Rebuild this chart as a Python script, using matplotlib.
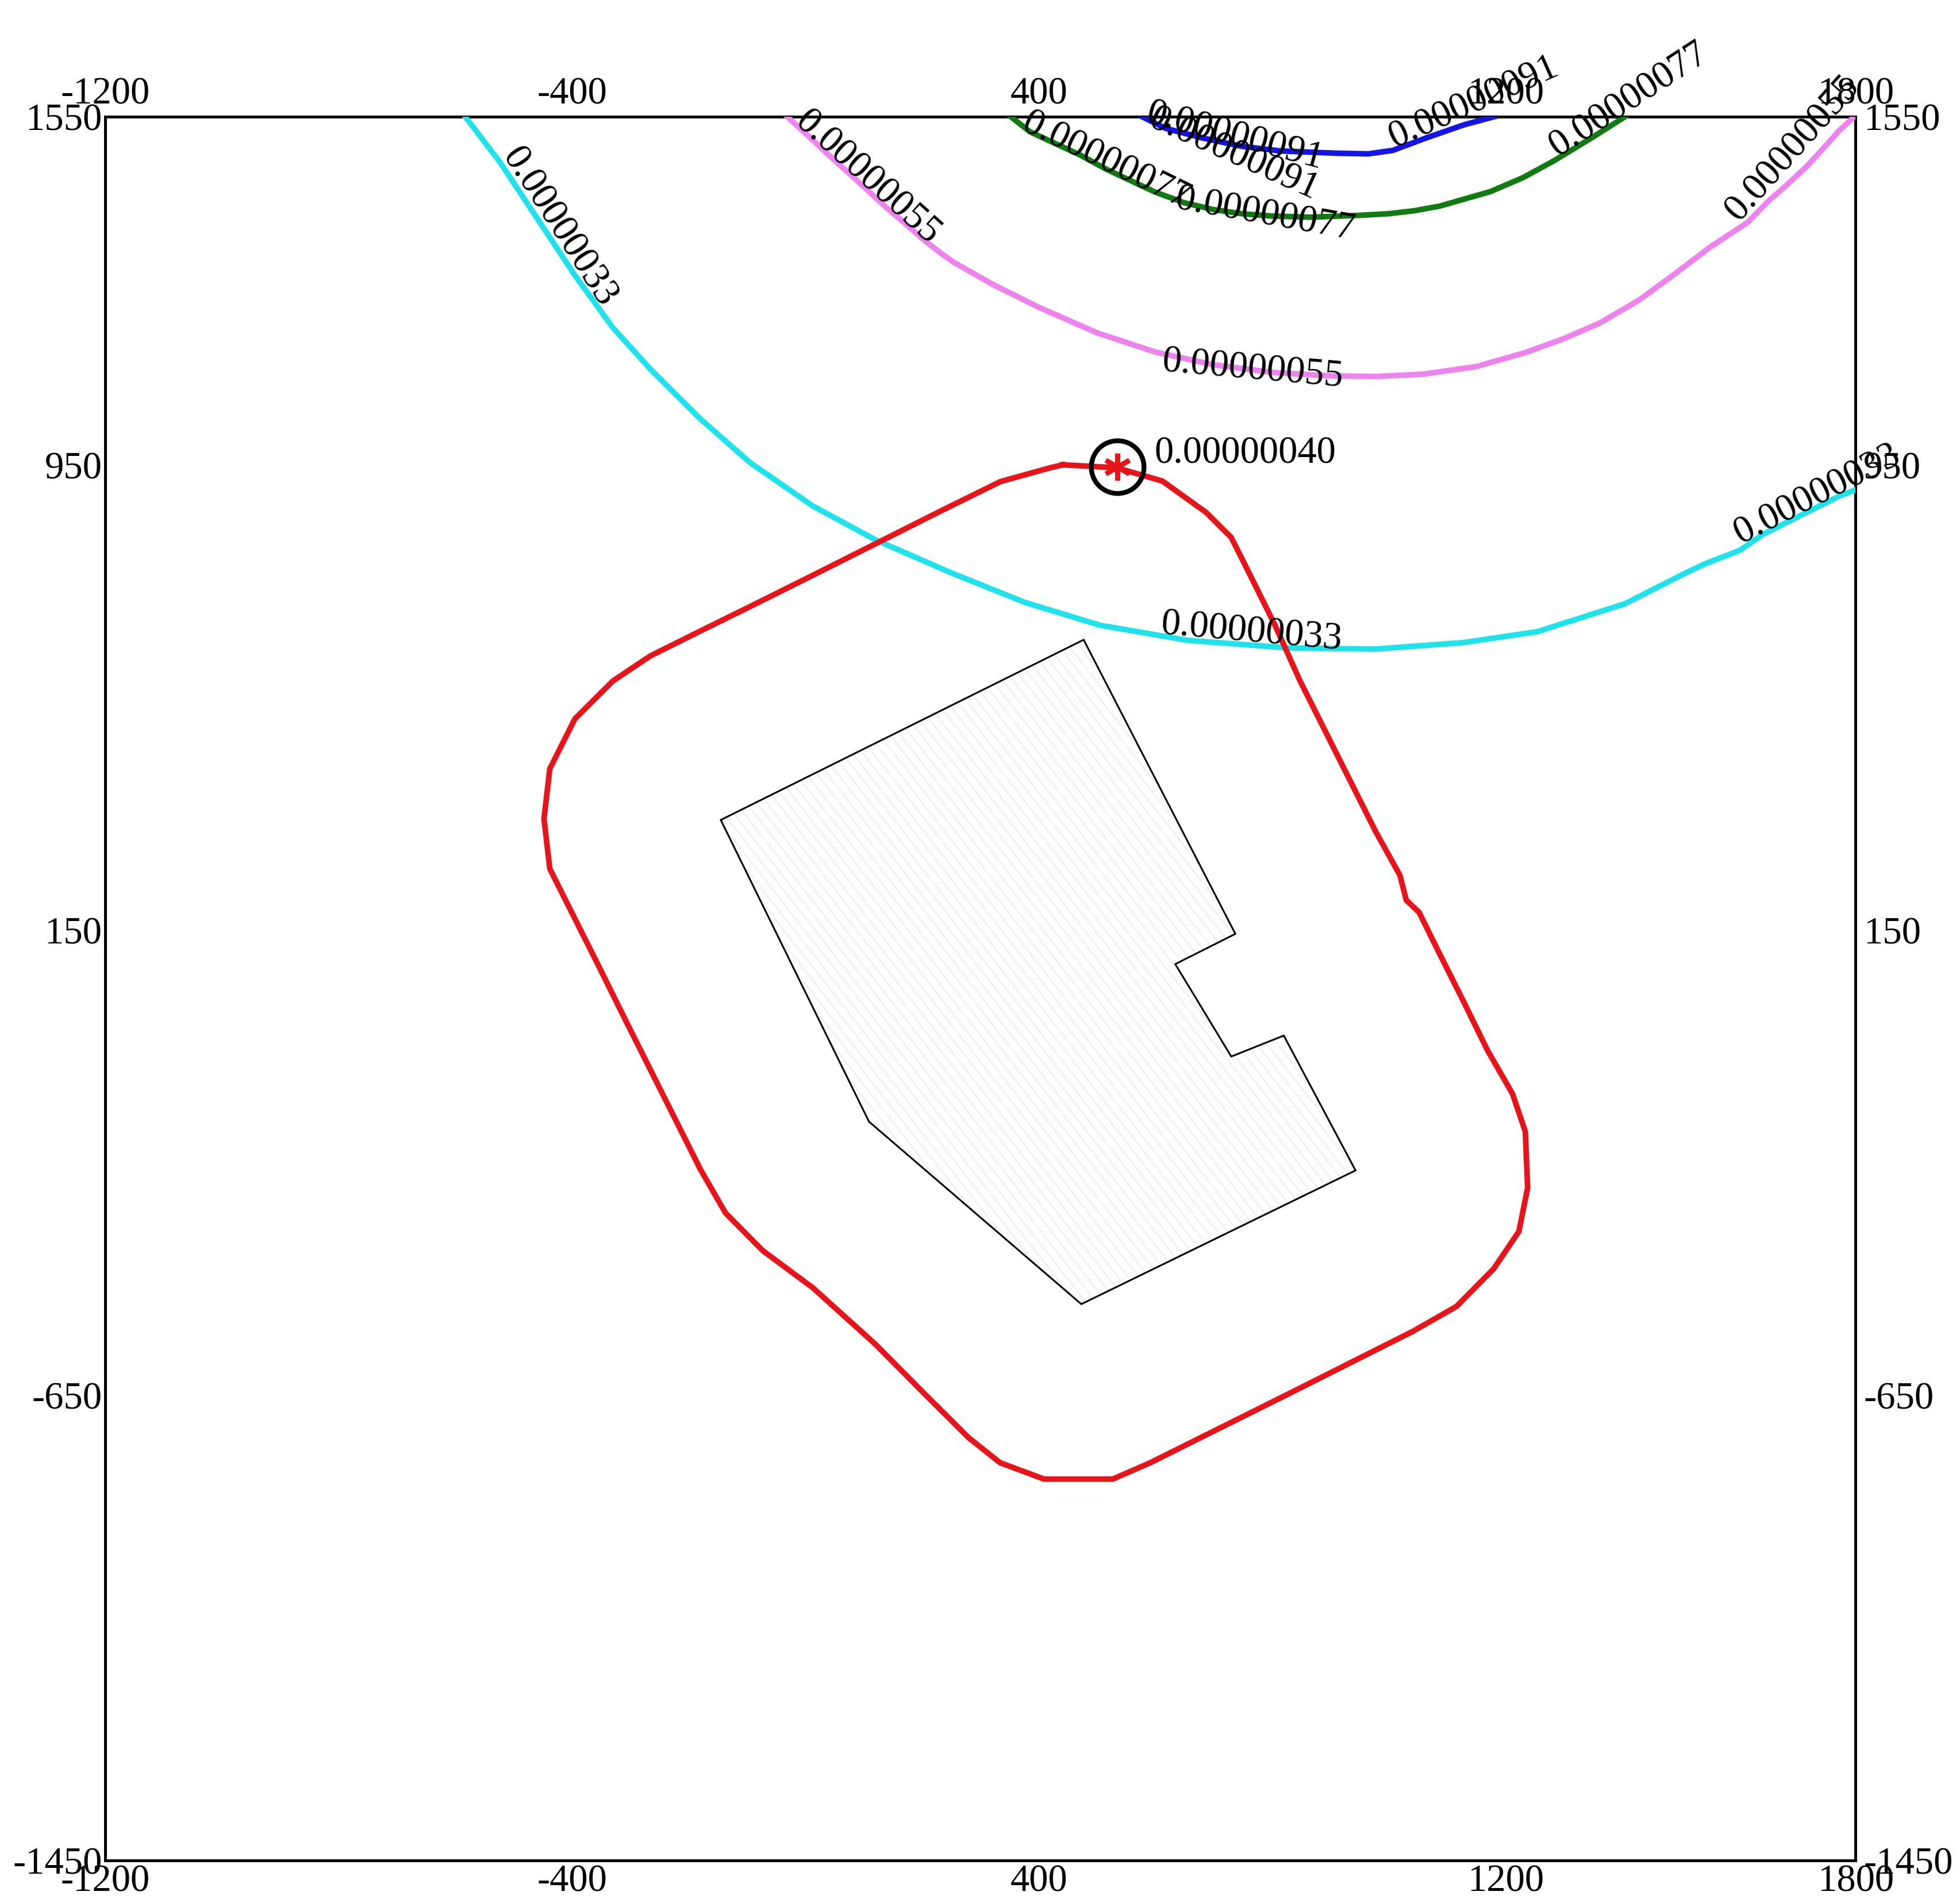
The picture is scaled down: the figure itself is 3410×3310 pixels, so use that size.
import numpy as np
import matplotlib.pyplot as plt
from matplotlib.patches import Polygon
from matplotlib.collections import LineCollection

plt.rcParams['font.family'] = ['Liberation Serif', 'DejaVu Serif']

# axis ticks
x_ticks = [-1200, -400, 400, 1200, 1800]
y_ticks = [1550, 950, 150, -650, -1450]

# isolines (x, y in metres)
c33_x = [-583, -523, -459, -395, -330, -266, -180, -95, 13, 120, 248, 377, 505, 655, 827, 977, 1127, 1255, 1405, 1509, 1543, 1602, 1641, 1706, 1772, 1800]
c33_y = [1550, 1471, 1374, 1277, 1187, 1116, 1030, 955, 880, 822, 766, 714, 675, 649, 636, 634, 645, 664, 712, 765, 781, 804, 831, 864, 897, 908]

c55_x = [-31, 6, 38, 71, 104, 137, 169, 203, 235, 255, 320, 400, 500, 600, 700, 800, 900, 980, 1060, 1150, 1234, 1300, 1362, 1430, 1491, 1550, 1615, 1651, 1684, 1716, 1750, 1772, 1798]
c55_y = [1550, 1516, 1486, 1456, 1426, 1395, 1368, 1338, 1313, 1299, 1262, 1222, 1178, 1145, 1123, 1110, 1104, 1103, 1107, 1120, 1144, 1168, 1195, 1235, 1280, 1325, 1368, 1405, 1434, 1464, 1501, 1526, 1550]

c77_x = [352, 385, 430, 471, 515, 551, 600, 649, 700, 748, 800, 866, 945, 1000, 1043, 1087, 1174, 1230, 1283, 1350, 1405]
c77_y = [1550, 1524, 1503, 1484, 1460, 1443, 1420, 1402, 1390, 1383, 1379, 1377, 1380, 1383, 1388, 1396, 1421, 1445, 1474, 1515, 1550]

c91_x = [577, 617, 682, 748, 814, 912, 965, 1007, 1063, 1129, 1181]
c91_y = [1550, 1530, 1513, 1499, 1491, 1487, 1486, 1492, 1513, 1536, 1550]

c40_x = [441, 533, 612, 687, 730, 762, 805, 848, 891, 934, 977, 1019, 1030, 1052, 1084, 1127, 1169, 1212, 1234, 1238,
         1223, 1180, 1116, 1041, 934, 827, 719, 591, 527, 409, 334, 280, 205, 120, 13, -73, -137, -180, -223, -266,
         -309, -352, -395, -438, -448, -438, -395, -330, -266, -180, -95, 13, 120, 227, 334, 420, 441]
c40_y = [951, 946, 923, 869, 826, 762, 675, 579, 493, 407, 321, 245, 202, 181, 116, 30, -56, -131, -196, -293,
         -368, -432, -497, -540, -594, -648, -702, -766, -794, -794, -766, -723, -648, -562, -465, -401, -336, -261, -175, -89,
         -3, 84, 170, 256, 342, 428, 514, 579, 622, 665, 707, 761, 815, 869, 922, 946, 951]

# site outline
site_x = [477, -145, 109, 473, 943, 820, 730, 634, 737]
site_y = [650, 340, -179, -493, -263, -31, -67, 92, 144]

# receptor point
point_x, point_y = 535, 948

isolines = [
    (c33_x, c33_y, '#1ee3ec'),
    (c55_x, c55_y, '#ee82ee'),
    (c77_x, c77_y, '#117a11'),
    (c91_x, c91_y, '#1414e6'),
    (c40_x, c40_y, '#e8141a'),
]

# isoline labels: text, x, y, angle
labels = [
    ('0.00000033', -520, 1482, -57),
    ('0.00000033', 608, 660, -5),
    ('0.00000033', 1603, 814, 27),
    ('0.00000055', -20, 1537, -42),
    ('0.00000055', 610, 1112, -5),
    ('0.00000055', 1600, 1368, 48),
    ('0.00000077', 368, 1528, -26),
    ('0.00000077', 632, 1392, -10),
    ('0.00000077', 1290, 1480, 33),
    ('0.00000091', 582, 1540, -15),
    ('0.00000091', 586, 1534, -24),
    ('0.00000091', 1010, 1496, 24),
]

fig = plt.figure(figsize=(34.1, 33.1), dpi=100)
ax = fig.add_axes([0.0537, 0.0224, 0.8930, 0.9163])
ax.set_xlim(-1200, 1800)
ax.set_ylim(-1450, 1550)

for xs, ys, col in isolines:
    ax.plot(xs, ys, color=col, lw=7, solid_joinstyle='round', zorder=3)

site = Polygon(np.column_stack([site_x, site_y]), closed=True, fill=False,
               edgecolor='black', lw=2.2, zorder=4)
ax.add_patch(site)

# light hatching inside the site
ang = np.deg2rad(-52)
d = np.array([np.cos(ang), np.sin(ang)])
nrm = np.array([-d[1], d[0]])
c0 = np.array([np.mean(site_x), np.mean(site_y)])
segs = [[c0 + o * nrm - 1500 * d, c0 + o * nrm + 1500 * d] for o in np.arange(-900, 900, 14)]
hatch = LineCollection(segs, colors='#e8e8e8', linewidths=1.1, zorder=2)
hatch.set_clip_path(site)
ax.add_collection(hatch)

ax.plot(point_x, point_y, marker=(6, 2, 0), color='#e8141a', ms=34, mew=6, zorder=6)
ax.plot(point_x, point_y, marker='o', mfc='none', mec='black', ms=66, mew=6, zorder=6)
ax.text(598, 970, '0.00000040', fontsize=48, ha='left', va='center', zorder=7)

for txt, lx, ly, rot in labels:
    ax.text(lx, ly, txt, fontsize=48, rotation=rot, rotation_mode='anchor',
            ha='left', va='baseline', zorder=7)

for s in ax.spines.values():
    s.set_linewidth(3.6)

ax.set_xticks(x_ticks, [str(v) for v in x_ticks])
ax.set_yticks(y_ticks, [str(v) for v in y_ticks])
ax.tick_params(axis='x', length=0, labelsize=48, pad=5)
ax.tick_params(axis='y', length=0, labelsize=48, pad=4)

top = ax.secondary_xaxis('top')
top.set_xticks(x_ticks, [str(v) for v in x_ticks])
top.tick_params(length=0, labelsize=48, pad=6)
top.spines['top'].set_visible(False)

right = ax.secondary_yaxis('right')
right.set_yticks(y_ticks, [str(v) for v in y_ticks])
right.tick_params(length=0, labelsize=48, pad=10)
right.spines['right'].set_visible(False)

fig.savefig('out.png', dpi=100, facecolor='white')
